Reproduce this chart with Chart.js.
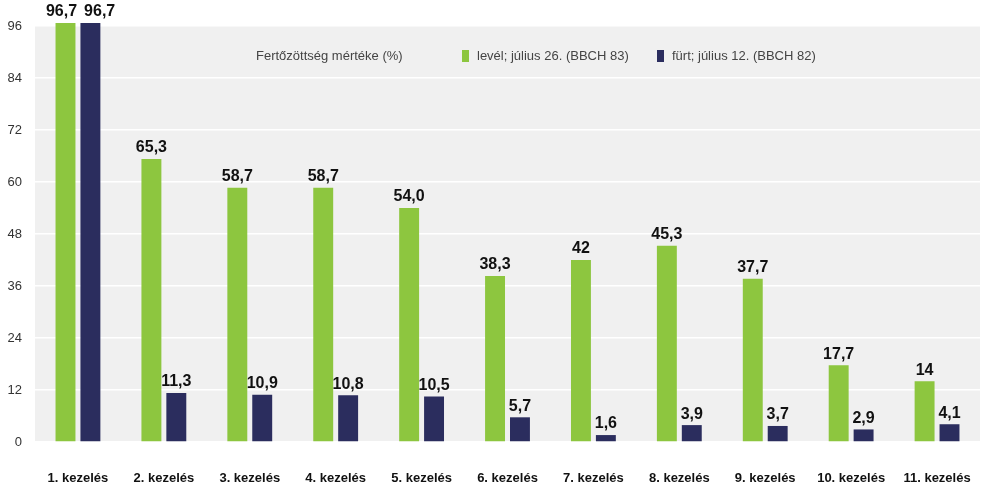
<!DOCTYPE html>
<html>
<head>
<meta charset="utf-8">
<script src="https://cdn.jsdelivr.net/npm/chart.js@4"></script>
<style>
  html, body { margin: 0; padding: 0; background: #fff; overflow: hidden; }
  #wrap { width: 984px; height: 489px; position: relative; }
  canvas { display: block; }
</style>
</head>
<body>
<div id="wrap"><canvas id="fertozottseg"></canvas></div>
<script>
// Fertőzöttség kezelésenként — levél és fürt

const kezelesek = ['1. kezelés', '2. kezelés', '3. kezelés', '4. kezelés', '5. kezelés', '6. kezelés',
  '7. kezelés', '8. kezelés', '9. kezelés', '10. kezelés', '11. kezelés'];

const levelFeliratok = ['96,7', '65,3', '58,7', '58,7', '54,0', '38,3', '42', '45,3', '37,7', '17,7', '14'];
const furtFeliratok = ['96,7', '11,3', '10,9', '10,8', '10,5', '5,7', '1,6', '3,9', '3,7', '2,9', '4,1'];

const yTicks = [0, 12, 24, 36, 48, 60, 72, 84, 96];

const SZIN = {
  level: '#8dc63f',
  furt: '#2b2d5e',
  hatter: '#f0f0f0',
};

const FONT = '"Liberation Sans", Arial, Helvetica, sans-serif';
const toNum = s => parseFloat(s.replace(',', '.'));

// szürke rajzterület háttér
const hatterPlugin = {
  id: 'hatter',
  beforeDraw(chart) {
    const { ctx, chartArea: a } = chart;
    ctx.save();
    ctx.fillStyle = SZIN.hatter;
    ctx.fillRect(a.left, a.top, a.right - a.left, a.bottom - a.top);
    ctx.restore();
  },
};

// értékfeliratok az oszlopok fölött; ha két felirat egymásba lógna, széthúzzuk őket
const feliratPlugin = {
  id: 'feliratok',
  afterDatasetsDraw(chart) {
    const { ctx } = chart;
    ctx.save();
    ctx.font = `bold 16px ${FONT}`;
    ctx.fillStyle = '#111';
    ctx.textAlign = 'center';
    ctx.textBaseline = 'bottom';
    const [d0, d1] = chart.data.datasets;
    const m0 = chart.getDatasetMeta(0).data;
    const m1 = chart.getDatasetMeta(1).data;
    m0.forEach((b0, j) => {
      const b1 = m1[j];
      const w0 = ctx.measureText(d0.feliratok[j]).width;
      const w1 = ctx.measureText(d1.feliratok[j]).width;
      let x0 = b0.x, x1 = b1.x;
      const atfedes = (x0 + w0 / 2 + 7) - (x1 - w1 / 2);
      if (atfedes > 0 && Math.abs(b0.y - b1.y) < 18) {
        x0 -= atfedes * 0.3;
        x1 += atfedes * 0.7;
      }
      ctx.fillText(d0.feliratok[j], x0, b0.y - 3);
      ctx.fillText(d1.feliratok[j], x1, b1.y - 3);
    });
    ctx.restore();
  },
};

// jelmagyarázat a rajzterületen belül
const jelmagyarazatPlugin = {
  id: 'jelmagyarazat',
  afterDraw(chart) {
    const { ctx } = chart;
    const y = 56;
    ctx.save();
    ctx.font = `13px ${FONT}`;
    ctx.fillStyle = '#444';
    ctx.textBaseline = 'middle';
    ctx.fillText('Fertőzöttség mértéke (%)', 256, y);
    const elemek = [
      { x: 462, ds: chart.data.datasets[0] },
      { x: 657, ds: chart.data.datasets[1] },
    ];
    elemek.forEach(e => {
      ctx.fillStyle = e.ds.backgroundColor;
      ctx.fillRect(e.x, y - 6, 7, 12);
      ctx.fillStyle = '#444';
      ctx.fillText(e.ds.label, e.x + 15, y);
    });
    ctx.restore();
  },
};

new Chart(document.getElementById('fertozottseg'), {
  type: 'bar',
  data: {
    labels: kezelesek,
    datasets: [{
      label: 'levél; július 26. (BBCH 83)',
      data: levelFeliratok.map(toNum),
      feliratok: levelFeliratok,
      backgroundColor: SZIN.level,
      clip: false,
    }, {
      label: 'fürt; július 12. (BBCH 82)',
      data: furtFeliratok.map(toNum),
      feliratok: furtFeliratok,
      backgroundColor: SZIN.furt,
      clip: false,
    }],
  },
  options: {
    responsive: true,
    maintainAspectRatio: false,
    animation: false,
    layout: { padding: { top: 26, right: 4, left: 0, bottom: 0 } },
    categoryPercentage: 0.58,
    barPercentage: 0.8,
    plugins: {
      legend: { display: false },
      tooltip: { enabled: false },
    },
    scales: {
      x: {
        grid: { display: false, drawTicks: false },
        border: { display: false },
        ticks: { color: '#111', font: { family: FONT, size: 13, weight: 'bold' }, padding: 29, maxRotation: 0 },
        afterFit: s => {
          s.height = 47;
          s.paddingLeft = 0;
          s.paddingRight = 0;
        },
      },
      y: {
        min: 0,
        max: 96,
        afterBuildTicks: s => { s.ticks = yTicks.map(v => ({ value: v })); },
        grid: { color: '#ffffff', lineWidth: 1.5, drawTicks: false },
        border: { display: false },
        ticks: { color: '#333', font: { family: FONT, size: 13 }, padding: 13 },
        afterFit: s => { s.width = 35; },
      },
    },
  },
  plugins: [hatterPlugin, feliratPlugin, jelmagyarazatPlugin],
});
</script>
</body>
</html>
